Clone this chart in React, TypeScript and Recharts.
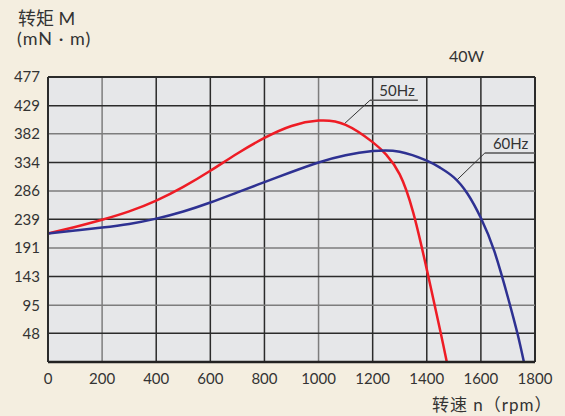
import React from "react";
import { CartesianGrid, Line, LineChart, ReferenceDot, ReferenceLine, XAxis, YAxis } from "recharts";

// rpm / torque (mN·m)
const curve50Hz = [
  { rpm: 0, torque: 215 },
  { rpm: 100, torque: 226 },
  { rpm: 200, torque: 238 },
  { rpm: 300, torque: 252 },
  { rpm: 400, torque: 270 },
  { rpm: 500, torque: 293 },
  { rpm: 600, torque: 320 },
  { rpm: 700, torque: 349 },
  { rpm: 800, torque: 375 },
  { rpm: 900, torque: 395 },
  { rpm: 1000, torque: 404 },
  { rpm: 1100, torque: 397 },
  { rpm: 1200, torque: 368 },
  { rpm: 1250, torque: 347 },
  { rpm: 1300, torque: 314 },
  { rpm: 1350, torque: 250 },
  { rpm: 1400, torque: 155 },
  { rpm: 1450, torque: 52 },
  { rpm: 1474, torque: 0 }
];

const curve60Hz = [
  { rpm: 0, torque: 215 },
  { rpm: 100, torque: 220 },
  { rpm: 200, torque: 225 },
  { rpm: 300, torque: 231 },
  { rpm: 400, torque: 240 },
  { rpm: 500, torque: 252 },
  { rpm: 600, torque: 267 },
  { rpm: 700, torque: 284 },
  { rpm: 800, torque: 301 },
  { rpm: 900, torque: 318 },
  { rpm: 1000, torque: 334 },
  { rpm: 1100, torque: 346 },
  { rpm: 1200, torque: 353 },
  { rpm: 1300, torque: 352 },
  { rpm: 1400, torque: 337 },
  { rpm: 1450, torque: 325 },
  { rpm: 1500, torque: 309 },
  { rpm: 1550, torque: 282 },
  { rpm: 1600, torque: 241 },
  { rpm: 1650, torque: 185 },
  { rpm: 1700, torque: 108 },
  { rpm: 1735, torque: 48 },
  { rpm: 1759, torque: 0 }
];

const rpmTicks = [0, 200, 400, 600, 800, 1000, 1200, 1400, 1600, 1800];
const torqueTicks = [0, 48, 95, 143, 191, 239, 286, 334, 382, 429, 477];
const lightRpmLines = [200, 1000];
const lightTorqueLines = [95, 191, 286, 382];

const font = "Lato, 'Noto Sans CJK SC', sans-serif";
const dark = "#2b2b2b";
const light = "#7d7d7d";

function NoteText({ viewBox, text }: { viewBox?: { x: number; y: number }; text: string }) {
  if (!viewBox) return null;
  return (
    <text x={viewBox.x} y={viewBox.y} textAnchor="middle" fill="#333" fontSize={15} fontFamily={font}>
      {text}
    </text>
  );
}

export default function App() {
  return (
    <div style={{ position: "absolute", left: 0, top: 0, width: 565, height: 416, background: "#f4eee0", fontFamily: font, color: "#333" }}>
      <div style={{ position: "absolute", left: 18, top: 8, fontSize: 18, lineHeight: "20px" }}>转矩 M</div>
      <div style={{ position: "absolute", left: 17, top: 28, fontSize: 18, lineHeight: "20px", letterSpacing: 1 }}>(mN · m)</div>
      <div style={{ position: "absolute", left: 449, top: 46, fontSize: 16 }}>40W</div>
      <div style={{ position: "absolute", left: 432, top: 391, fontSize: 17, letterSpacing: 1 }}>转速 n（rpm）</div>
      <LineChart width={565} height={416} margin={{ top: 77, right: 30, left: 0, bottom: 24 }} style={{ position: "absolute", left: 0, top: 0 }}>
        <CartesianGrid fill="#e6e7e9" horizontal={false} vertical={false} />
        <XAxis
          type="number"
          dataKey="rpm"
          domain={[0, 1800]}
          ticks={rpmTicks}
          tickLine={false}
          axisLine={{ stroke: "#222", strokeWidth: 2.5 }}
          tick={{ fill: "#333", fontSize: 15, fontFamily: font }}
          tickMargin={5}
          height={30}
        />
        <YAxis
          type="number"
          dataKey="torque"
          domain={[0, 477]}
          ticks={torqueTicks}
          tickLine={false}
          axisLine={{ stroke: dark, strokeWidth: 2 }}
          tick={{ fill: "#333", fontSize: 15, fontFamily: font }}
          tickFormatter={(v: number) => (v === 0 ? "" : String(v))}
          tickMargin={2}
          width={48}
        />
        {rpmTicks.slice(1).map((v) => (
          <ReferenceLine key={"x" + v} x={v} stroke={lightRpmLines.includes(v) ? light : dark} strokeWidth={v === 1800 ? 2 : 1.5} />
        ))}
        {torqueTicks.slice(1).map((v) => (
          <ReferenceLine key={"y" + v} y={v} stroke={lightTorqueLines.includes(v) ? light : dark} strokeWidth={v === 477 ? 2 : 1.5} />
        ))}
        <ReferenceLine segment={[{ x: 1096, y: 399 }, { x: 1190, y: 438 }]} stroke="#333" strokeWidth={1} />
        <ReferenceLine segment={[{ x: 1190, y: 438 }, { x: 1367, y: 438 }]} stroke="#555" strokeWidth={1.5} />
        <ReferenceDot x={1290} y={445} r={0} stroke="none" label={<NoteText text="50Hz" />} />
        <ReferenceLine segment={[{ x: 1510, y: 304 }, { x: 1615, y: 350 }]} stroke="#333" strokeWidth={1} />
        <ReferenceLine segment={[{ x: 1615, y: 350 }, { x: 1800, y: 350 }]} stroke="#555" strokeWidth={1.5} />
        <ReferenceDot x={1710} y={357} r={0} stroke="none" label={<NoteText text="60Hz" />} />
        <Line data={curve50Hz} dataKey="torque" type="natural" stroke="#ee1c25" strokeWidth={2.5} dot={false} isAnimationActive={false} />
        <Line data={curve60Hz} dataKey="torque" type="natural" stroke="#2e3192" strokeWidth={2.5} dot={false} isAnimationActive={false} />
      </LineChart>
    </div>
  );
}
